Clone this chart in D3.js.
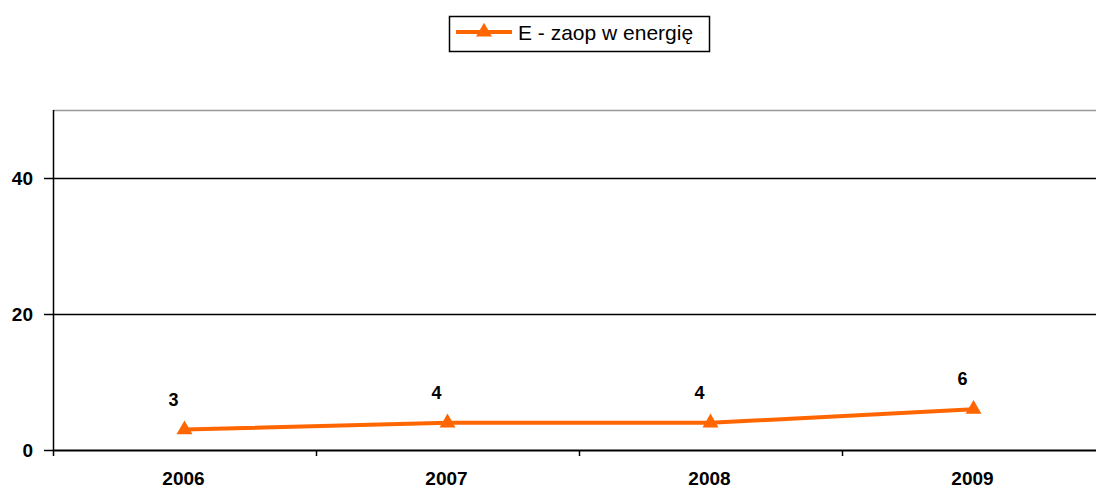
<!DOCTYPE html>
<html>
<head>
<meta charset="utf-8">
<script src="https://cdn.jsdelivr.net/npm/d3@7"></script>
<style>
  body { margin: 0; background: #fff; }
  svg { display: block; font-family: Arial, "Liberation Sans", sans-serif; }
</style>
</head>
<body>
<svg width="1096" height="490"></svg>
<script>
const years = ["2006", "2007", "2008", "2009"]
const values = [3, 4, 4, 6]
const y_ticks = [0, 20, 40]
const series_name = "E - zaop w energię"

const orange = "#ff6600"
const label_size = 19
const plot = { left: 53, right: 1105, top: 110, bottom: 450 }

const svg = d3.select("svg")

const x = d3.scaleBand().domain(years).range([plot.left, plot.right])
const y = d3.scaleLinear().domain([0, 50]).range([plot.bottom, plot.top])

// top border of the plot area
svg.append("line")
    .attr("x1", plot.left).attr("x2", plot.right)
    .attr("y1", plot.top + 0.5).attr("y2", plot.top + 0.5)
    .attr("stroke", "#999").attr("stroke-width", 1.5)

// grid lines
svg.append("g")
    .selectAll("line")
    .data(y_ticks.filter(d => d > 0))
    .enter()
    .append("line")
    .attr("x1", plot.left).attr("x2", plot.right)
    .attr("y1", d => Math.round(y(d)) + 0.5).attr("y2", d => Math.round(y(d)) + 0.5)
    .attr("stroke", "#000").attr("stroke-width", 1.5)

// y axis
const y_axis = svg.append("g")
    .attr("transform", `translate(${plot.left},0)`)
    .call(d3.axisLeft(y).tickValues(y_ticks).tickSize(9).tickPadding(11).tickFormat(d3.format("d")))
y_axis.select(".domain").attr("d", `M0.5,${plot.top}V${plot.bottom + 6}`).attr("stroke-width", 1.5)
y_axis.selectAll(".tick line").attr("stroke-width", 1.5)
y_axis.selectAll("text")
    .attr("font-size", label_size).attr("font-weight", "bold").attr("fill", "#000")
    .attr("font-family", "Arial, 'Liberation Sans', sans-serif")
    .attr("dy", "0.36em")

// x axis
const x_axis = svg.append("g")
    .attr("transform", `translate(0,${plot.bottom})`)
x_axis.append("line")
    .attr("x1", plot.left).attr("x2", plot.right)
    .attr("y1", 0.5).attr("y2", 0.5)
    .attr("stroke", "#000").attr("stroke-width", 2)
x_axis.selectAll(".xtick")
    .data(years.slice(1))
    .enter()
    .append("line")
    .attr("x1", d => Math.round(x(d)) + 0.5).attr("x2", d => Math.round(x(d)) + 0.5)
    .attr("y1", 0).attr("y2", 6)
    .attr("stroke", "#000").attr("stroke-width", 1.5)
x_axis.selectAll("text")
    .data(years)
    .enter()
    .append("text")
    .attr("x", d => x(d) + x.bandwidth() / 2 - 1)
    .attr("y", 35)
    .attr("text-anchor", "middle")
    .attr("font-size", label_size).attr("font-weight", "bold")
    .text(d => d)

// series line
const line = d3.line()
    .x((d, i) => x(years[i]) + x.bandwidth() / 2)
    .y(d => y(d))

svg.append("path")
    .datum(values)
    .attr("d", line)
    .attr("fill", "none")
    .attr("stroke", orange)
    .attr("stroke-width", 4)

const tri = d3.symbol().type(d3.symbolTriangle).size(110)

svg.append("g")
    .selectAll("path")
    .data(values)
    .enter()
    .append("path")
    .attr("d", tri)
    .attr("transform", (d, i) => `translate(${x(years[i]) + x.bandwidth() / 2},${y(d)})`)
    .attr("fill", orange)

// data labels
svg.append("g")
    .selectAll("text")
    .data(values)
    .enter()
    .append("text")
    .attr("x", (d, i) => x(years[i]) + x.bandwidth() / 2 - 11)
    .attr("y", d => y(d) - 24)
    .attr("text-anchor", "middle")
    .attr("font-size", 18).attr("font-weight", "bold")
    .text(d => d)

// legend
const legend = svg.append("g")
legend.append("rect")
    .attr("x", 449.5).attr("y", 16.5)
    .attr("width", 260).attr("height", 35)
    .attr("fill", "#fff").attr("stroke", "#000").attr("stroke-width", 1.5)
legend.append("line")
    .attr("x1", 456).attr("x2", 512)
    .attr("y1", 32).attr("y2", 32)
    .attr("stroke", orange).attr("stroke-width", 4)
legend.append("path")
    .attr("d", tri)
    .attr("transform", "translate(484,32)")
    .attr("fill", orange)
legend.append("text")
    .attr("x", 518).attr("y", 40)
    .attr("font-size", 21)
    .text(series_name)
</script>
</body>
</html>
